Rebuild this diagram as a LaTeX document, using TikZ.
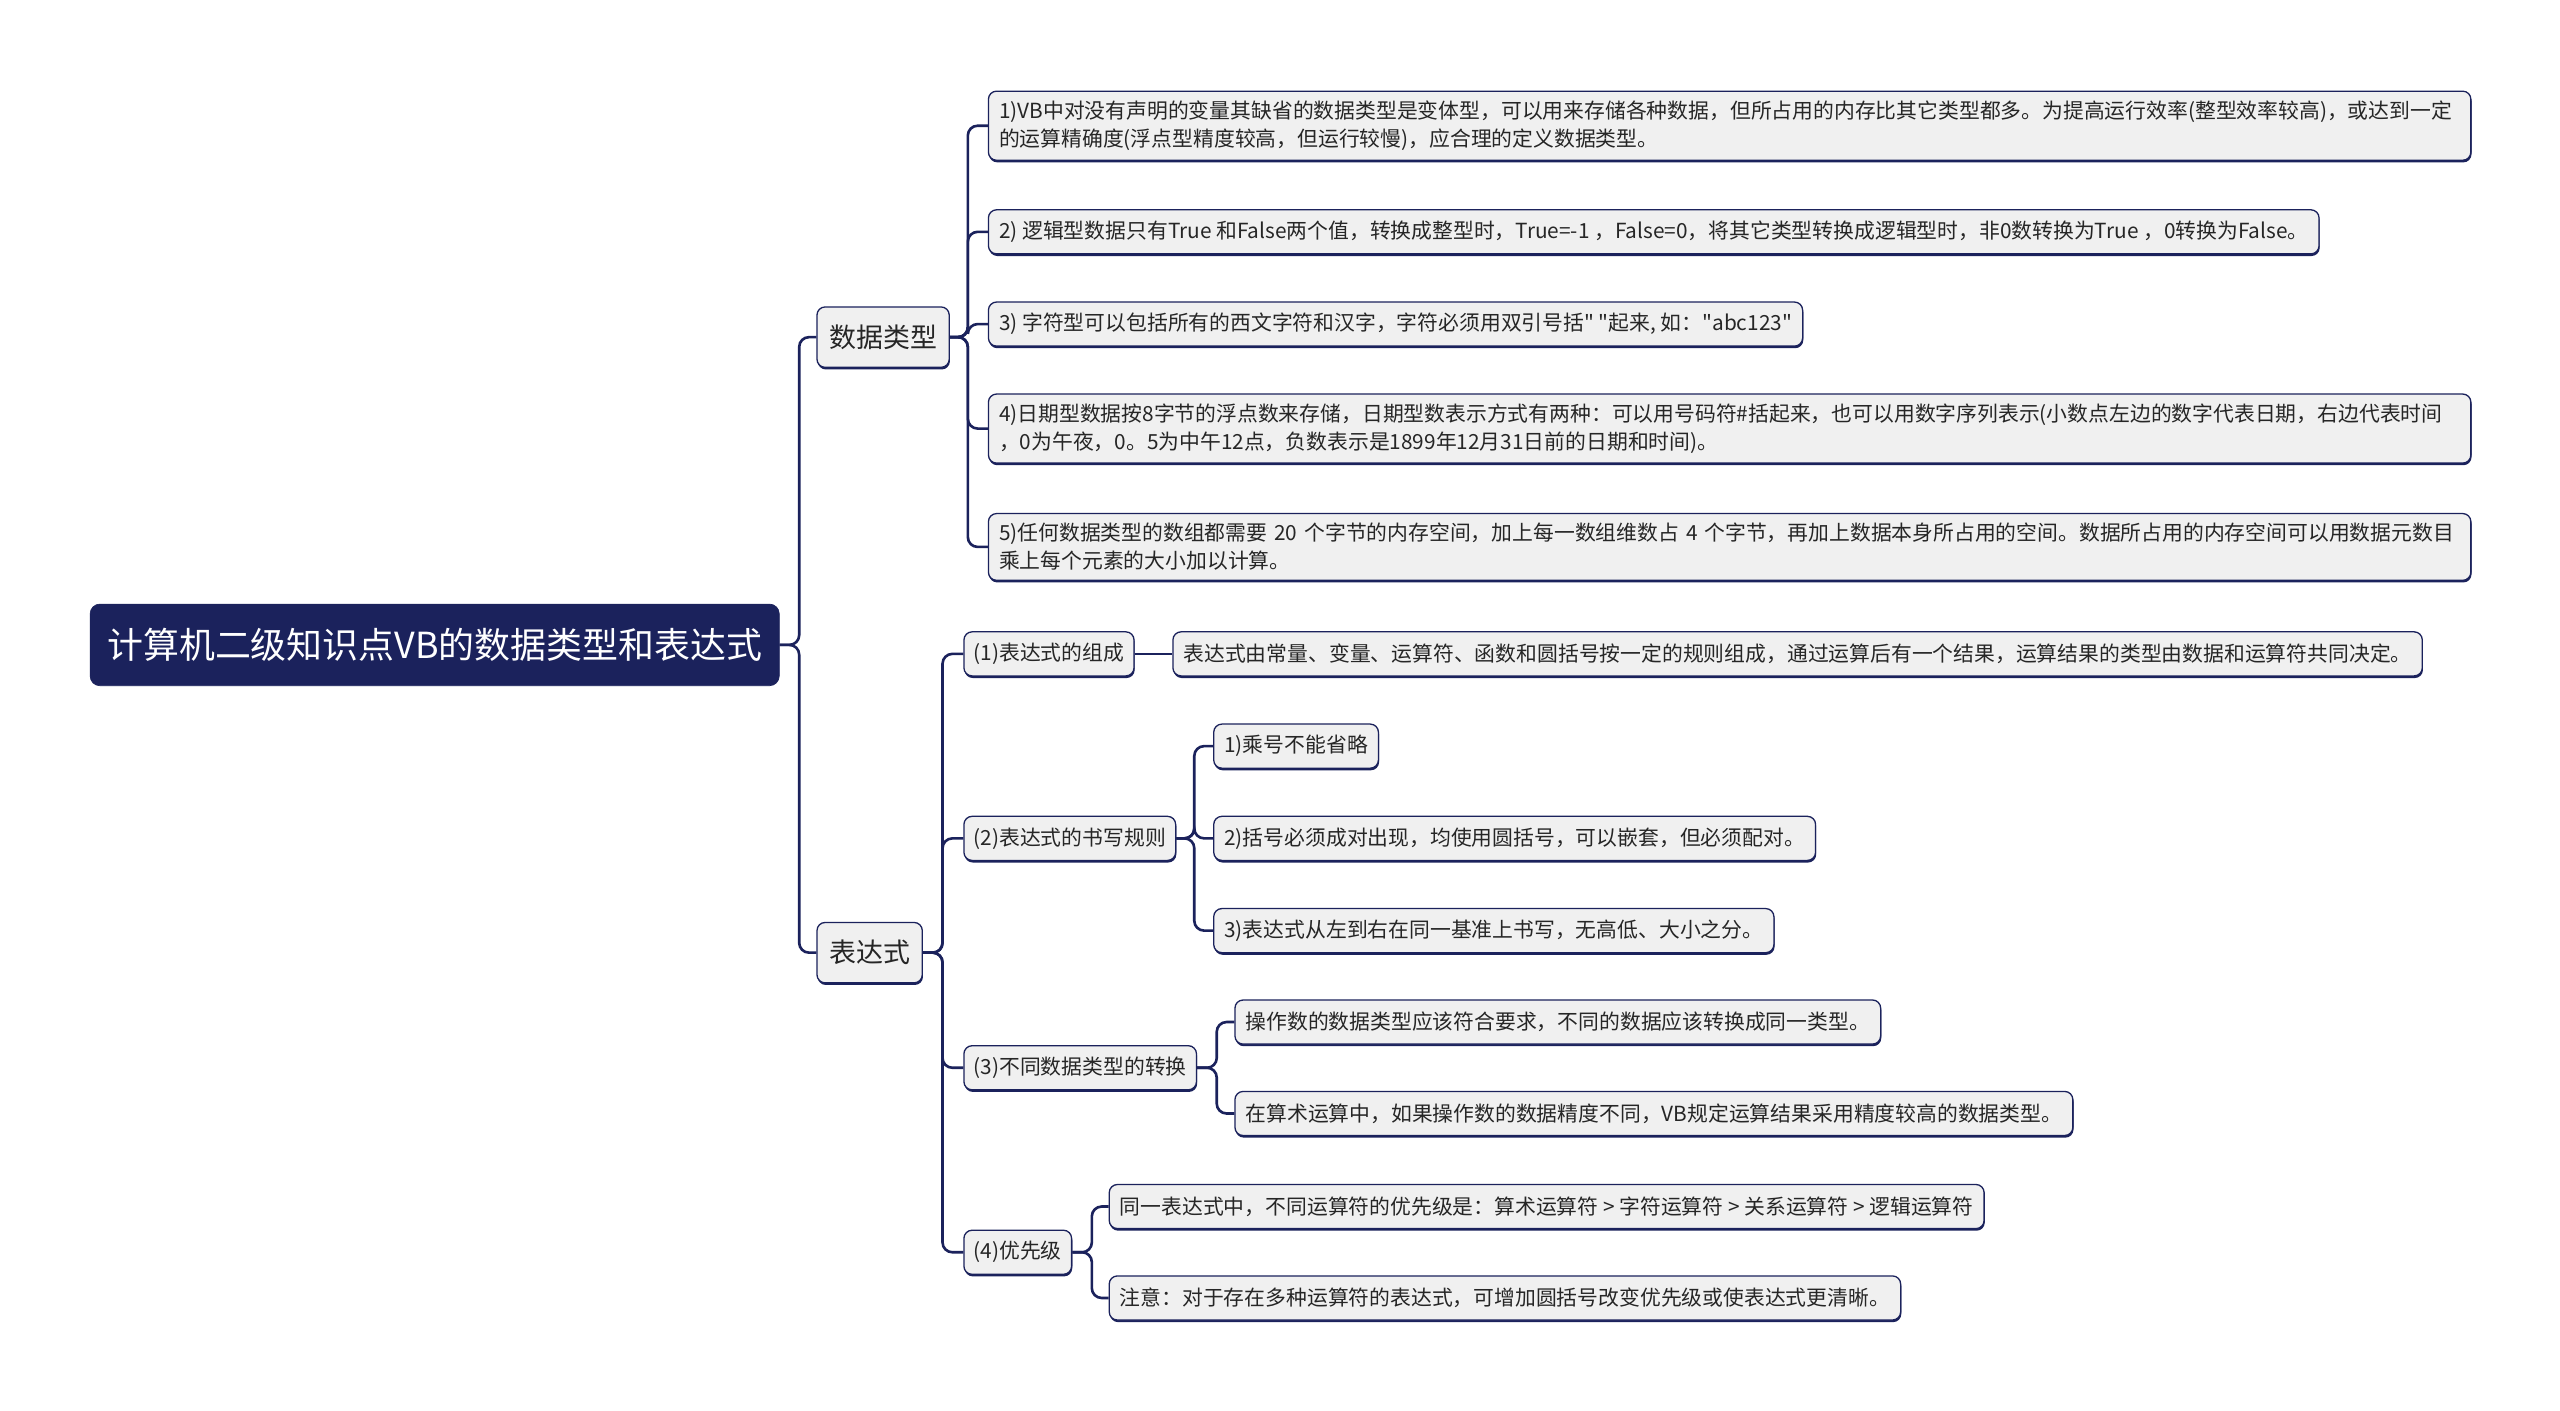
\documentclass[tikz,border=0pt]{standalone}
\usepackage{fontspec}
\setmainfont{Noto Sans CJK SC}[Ligatures=TeXOff]
\usetikzlibrary{shadows}
\definecolor{navyc}{RGB}{27,34,92}
\definecolor{boxg}{RGB}{240,240,240}
\definecolor{txtc}{RGB}{38,38,38}
\begin{document}
\begin{tikzpicture}[x=1pt,y=-1pt,
  conn/.style={draw=navyc, line width=1.6pt, rounded corners=6pt},
  basebox/.style={draw=navyc, line width=0.8pt, fill=boxg, rounded corners=5pt, anchor=west, text=txtc,
     general shadow={fill=navyc, shadow yshift=-1.3pt, shadow xshift=0.4pt}},
  leaf/.style={basebox, font=\fontsize{12.75}{17}\selectfont, inner xsep=6.5pt, inner ysep=6pt, minimum height=27pt, align=left},
  wide/.style={text width=895pt},
  lvltwo/.style={basebox, font=\fontsize{12.75}{17}\selectfont, inner xsep=6pt, inner ysep=4pt, minimum height=27pt},
  lvlone/.style={basebox, font=\fontsize{16.5}{20}\selectfont, inner xsep=7.5pt, minimum height=37pt},
  rootbox/.style={draw=navyc, fill=navyc, rounded corners=6pt, anchor=west, text=white, font=\fontsize{22}{26}\selectfont, inner xsep=10.5pt, minimum height=50pt}
]
\useasboundingbox (0,0) rectangle (1568,864);
\fill[white] (0,0) rectangle (1568,864);

\node[rootbox] (root) at (55,395) {计算机二级知识点VB的数据类型和表达式};

\node[lvlone] (dt) at (500,206.5) {数据类型};
\node[lvlone] (bd) at (500,583.5) {表达式};

\node[leaf,wide] (d1) at (605,77) {1)VB中对没有声明的变量其缺省的数据类型是变体型，可以用来存储各种数据，但所占用的内存比其它类型都多。为提高运行效率(整型效率较高)，或达到一定\\的运算精确度(浮点型精度较高，但运行较慢)，应合理的定义数据类型。};
\node[leaf] (d2) at (605,142) {2) 逻辑型数据只有True 和False两个值，转换成整型时，True=-1 ，False=0，将其它类型转换成逻辑型时，非0数转换为True ，0转换为False。};
\node[leaf] (d3) at (605,198.5) {3) 字符型可以包括所有的西文字符和汉字，字符必须用双引号括" "起来, 如："abc123"};
\node[leaf,wide] (d4) at (605,262.5) {4)日期型数据按8字节的浮点数来存储，日期型数表示方式有两种：可以用号码符\#括起来，也可以用数字序列表示(小数点左边的数字代表日期，右边代表时间\\，0为午夜，0。5为中午12点，负数表示是1899年12月31日前的日期和时间)。};
\node[leaf,wide] (d5) at (605,335) {5)任何数据类型的数组都需要 20 个字节的内存空间，加上每一数组维数占 4 个字节，再加上数据本身所占用的空间。数据所占用的内存空间可以用数据元数目\\乘上每个元素的大小加以计算。};

\node[lvltwo] (e1) at (590,400.5) {(1)表达式的组成};
\node[lvltwo] (e2) at (590,513.5) {(2)表达式的书写规则};
\node[lvltwo] (e3) at (590,654) {(3)不同数据类型的转换};
\node[lvltwo] (e4) at (590,767) {(4)优先级};

\node[leaf] (e1a) at (718,400.5) {表达式由常量、变量、运算符、函数和圆括号按一定的规则组成，通过运算后有一个结果，运算结果的类型由数据和运算符共同决定。};

\node[leaf] (e2a) at (743,457) {1)乘号不能省略};
\node[leaf] (e2b) at (743,513.5) {2)括号必须成对出现，均使用圆括号，可以嵌套，但必须配对。};
\node[leaf] (e2c) at (743,570) {3)表达式从左到右在同一基准上书写，无高低、大小之分。};

\node[leaf] (e3a) at (756,626) {操作数的数据类型应该符合要求，不同的数据应该转换成同一类型。};
\node[leaf] (e3b) at (756,682) {在算术运算中，如果操作数的数据精度不同，VB规定运算结果采用精度较高的数据类型。};

\node[leaf] (e4a) at (679,739) {同一表达式中，不同运算符的优先级是：算术运算符 > 字符运算符 > 关系运算符 > 逻辑运算符};
\node[leaf] (e4b) at (679,795) {注意：对于存在多种运算符的表达式，可增加圆括号改变优先级或使表达式更清晰。};

% connectors
\foreach \c in {dt,bd} \draw[conn] (root.east) -- ++(12,0) |- (\c.west);
\foreach \c in {d1,d2,d3,d4,d5} \draw[conn] (dt.east) -- ++(11,0) |- (\c.west);
\foreach \c in {e1,e2,e3,e4} \draw[conn] (bd.east) -- ++(12,0) |- (\c.west);
\draw[conn] (e1.east) -- (e1a.west);
\foreach \c in {e2a,e2b,e2c} \draw[conn] (e2.east) -- ++(11,0) |- (\c.west);
\foreach \c in {e3a,e3b} \draw[conn] (e3.east) -- ++(12,0) |- (\c.west);
\foreach \c in {e4a,e4b} \draw[conn] (e4.east) -- ++(12,0) |- (\c.west);
\end{tikzpicture}
\end{document}
